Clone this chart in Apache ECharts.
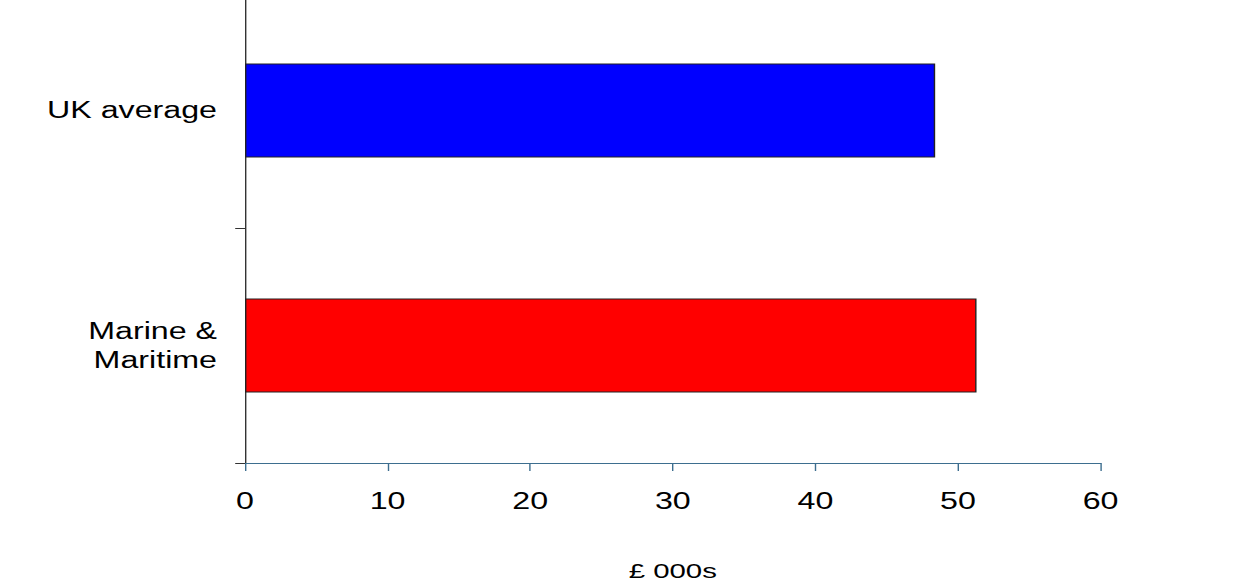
<!DOCTYPE html>
<html>
<head>
<meta charset="utf-8">
<script src="https://cdn.jsdelivr.net/npm/echarts@6/dist/echarts.min.js"></script>
<style>
html,body{margin:0;padding:0;background:#fff;overflow:hidden;}
#wrap{width:1252px;height:586px;overflow:hidden;position:relative;}
#chart{position:absolute;left:0;top:-7px;width:894.2857px;height:593px;transform:scaleX(1.4);transform-origin:0 0;}
</style>
</head>
<body>
<div id="wrap"><div id="chart"></div></div>
<script>
const categories = ['Marine &\nMaritime', 'UK average'];
const values = [51.3, 48.4];
const barColors = ['#FF0000', '#0000FF'];
const xTicks = [0, 10, 20, 30, 40, 50, 60];
const xTitle = '£ 000s';

const chart = echarts.init(document.getElementById('chart'), null, { renderer: 'svg' });
chart.setOption({
  animation: false,
  backgroundColor: '#ffffff',
  grid: { left: 175, right: 107.86, top: 0, bottom: 121, containLabel: false },
  xAxis: {
    type: 'value', min: xTicks[0], max: xTicks[xTicks.length - 1], interval: 10,
    name: xTitle, nameLocation: 'middle', nameGap: 97,
    nameTextStyle: { fontFamily: 'Liberation Sans', fontSize: 21, color: '#000' },
    axisLine: { show: true, lineStyle: { color: '#3d6e8f', width: 1 } },
    axisTick: { show: true, length: 8, lineStyle: { color: '#3d6e8f' } },
    axisLabel: { fontFamily: 'Liberation Sans', fontSize: 23, color: '#000', margin: 27 },
    splitLine: { show: false }
  },
  yAxis: {
    type: 'category', data: categories,
    axisLine: { show: true, lineStyle: { color: '#333', width: 1 } },
    axisTick: { show: true, length: 7, lineStyle: { color: '#333' } },
    axisLabel: { fontFamily: 'Liberation Sans', fontSize: 23, color: '#000', margin: 20, lineHeight: 29 }
  },
  series: [{
    type: 'bar',
    data: values.map((v, i) => ({ value: v, itemStyle: { color: barColors[i] } })),
    barWidth: '40%',
    itemStyle: { borderColor: '#222', borderWidth: 1 }
  }]
});
</script>
</body>
</html>
